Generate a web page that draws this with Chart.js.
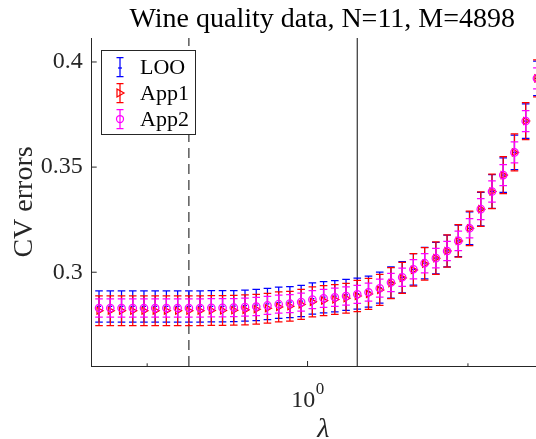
<!DOCTYPE html>
<html>
<head>
<meta charset="utf-8">
<script src="https://cdn.jsdelivr.net/npm/chart.js@4"></script>
<style>
  html, body { margin: 0; padding: 0; background: #fff; overflow: hidden; }
  #wrap { width: 580px; height: 439px; }
</style>
</head>
<body>
<div id="wrap"><canvas id="cv" width="580" height="439"></canvas></div>
<script>
// lambda grid (x), one entry per point
const lambdas = [
  0.0501, 0.0589, 0.0692, 0.0813, 0.0955, 0.1122, 0.1318, 0.1549, 0.1820, 0.2138,
  0.2512, 0.2951, 0.3467, 0.4074, 0.4786, 0.5623, 0.6607, 0.7762, 0.9120, 1.0715,
  1.2589, 1.4791, 1.7378, 2.0417, 2.3988, 2.8184, 3.3113, 3.8905, 4.5709, 5.3703,
  6.3096, 7.4131, 8.7096, 10.2329, 12.0226, 14.1254, 16.5959, 19.4984, 22.9087, 26.9153
]

const looMean = [
  0.2837, 0.2837, 0.2837, 0.2837, 0.2837, 0.2837, 0.2837, 0.2837, 0.2837, 0.2837,
  0.2838, 0.2838, 0.2839, 0.2841, 0.2844, 0.2849, 0.2855, 0.2858, 0.2863, 0.2875,
  0.2881, 0.2886, 0.2892, 0.2898, 0.2908, 0.2927, 0.2951, 0.2976, 0.3014, 0.3043,
  0.3067, 0.3101, 0.3149, 0.3209, 0.3300, 0.3384, 0.3462, 0.3570, 0.3719, 0.3922
]
const looErr = [
  0.0074, 0.0074, 0.0074, 0.0074, 0.0074, 0.0074, 0.0074, 0.0074, 0.0074, 0.0074,
  0.0074, 0.0074, 0.0074, 0.0074, 0.0074, 0.0074, 0.0074, 0.0074, 0.0074, 0.0074,
  0.0074, 0.0074, 0.0074, 0.0074, 0.0074, 0.0074, 0.0074, 0.0074, 0.0075, 0.0075,
  0.0075, 0.0075, 0.0075, 0.0078, 0.0080, 0.0080, 0.0082, 0.0082, 0.0082, 0.0082
]

const app1Mean = [
  0.2817, 0.2817, 0.2817, 0.2817, 0.2817, 0.2817, 0.2817, 0.2817, 0.2817, 0.2817,
  0.2818, 0.2818, 0.2819, 0.2821, 0.2824, 0.2829, 0.2835, 0.2838, 0.2847, 0.2859,
  0.2865, 0.2870, 0.2876, 0.2887, 0.2897, 0.2916, 0.2948, 0.2973, 0.3011, 0.3040,
  0.3067, 0.3101, 0.3149, 0.3209, 0.3300, 0.3384, 0.3462, 0.3570, 0.3719, 0.3922
]
const app1Err = [
  0.0071, 0.0071, 0.0071, 0.0071, 0.0071, 0.0071, 0.0071, 0.0071, 0.0071, 0.0071,
  0.0071, 0.0071, 0.0071, 0.0071, 0.0071, 0.0071, 0.0071, 0.0071, 0.0071, 0.0071,
  0.0071, 0.0071, 0.0071, 0.0074, 0.0074, 0.0074, 0.0074, 0.0074, 0.0077, 0.0077,
  0.0077, 0.0077, 0.0077, 0.0082, 0.0082, 0.0082, 0.0088, 0.0088, 0.0088, 0.0088
]

const app2Mean = [
  0.2830, 0.2830, 0.2830, 0.2830, 0.2830, 0.2830, 0.2830, 0.2830, 0.2830, 0.2830,
  0.2831, 0.2831, 0.2832, 0.2834, 0.2837, 0.2842, 0.2848, 0.2851, 0.2858, 0.2870,
  0.2876, 0.2881, 0.2887, 0.2895, 0.2905, 0.2924, 0.2951, 0.2976, 0.3014, 0.3043,
  0.3067, 0.3101, 0.3149, 0.3209, 0.3300, 0.3384, 0.3462, 0.3570, 0.3719, 0.3922
]
const app2Err = [
  0.0043, 0.0043, 0.0043, 0.0043, 0.0043, 0.0043, 0.0043, 0.0043, 0.0043, 0.0043,
  0.0043, 0.0043, 0.0043, 0.0043, 0.0043, 0.0043, 0.0043, 0.0043, 0.0043, 0.0043,
  0.0043, 0.0043, 0.0043, 0.0043, 0.0043, 0.0043, 0.0043, 0.0043, 0.0046, 0.0046,
  0.0046, 0.0046, 0.0046, 0.0046, 0.0050, 0.0050, 0.0050, 0.0050, 0.0050, 0.0050
]

const seriesNames = ['LOO', 'App1', 'App2']
const yTickValues = [0.3, 0.35, 0.4]
const xMajorTicks = [1]
const xMinorTicks = [0.1, 10]
const lambdaDashed = 0.1820
const lambdaSolid = 2.0417

const titleText = 'Wine quality data, N=11, M=4898'
const xLabel = 'λ'
const yLabel = 'CV errors'

const FONT = "'Liberation Serif', 'Times New Roman', serif"
const AXIS = '#262626'
Chart.defaults.font.family = FONT

const errs = [looErr, app1Err, app2Err]
const means = [looMean, app1Mean, app2Mean]
const colors = ['#0000ff', '#ff0000', '#ff00ff']

function pts(arr) {
  return lambdas.map((x, i) => ({ x, y: arr[i] }))
}

function drawBar(ctx, x, yTop, yBot, cap) {
  ctx.beginPath()
  ctx.moveTo(x, yTop); ctx.lineTo(x, yBot)
  ctx.moveTo(x - cap, yTop); ctx.lineTo(x + cap, yTop)
  ctx.moveTo(x - cap, yBot); ctx.lineTo(x + cap, yBot)
  ctx.stroke()
}

const errorBars = {
  id: 'errorBars',
  beforeDatasetDraw(chart, args) {
    const { ctx, chartArea: a, scales } = chart
    const i = args.index
    ctx.save()
    ctx.beginPath()
    ctx.rect(a.left, a.top, a.right - a.left, a.bottom - a.top)
    ctx.clip()
    ctx.strokeStyle = colors[i]
    ctx.lineWidth = 1.25
    lambdas.forEach((l, k) => {
      const x = scales.x.getPixelForValue(l)
      const yt = scales.y.getPixelForValue(means[i][k] + errs[i][k])
      const yb = scales.y.getPixelForValue(means[i][k] - errs[i][k])
      drawBar(ctx, x, yt, yb, 3.8)
    })
    ctx.restore()
  }
}

const decorations = {
  id: 'decorations',
  beforeDatasetsDraw(chart) {
    const { ctx, chartArea: a, scales } = chart
    ctx.save()
    ctx.strokeStyle = '#333'
    ctx.lineWidth = 1.2
    const xd = scales.x.getPixelForValue(lambdaDashed)
    ctx.setLineDash([10, 6])
    ctx.beginPath(); ctx.moveTo(xd, a.bottom); ctx.lineTo(xd, a.top); ctx.stroke()
    ctx.setLineDash([])
    const xs = scales.x.getPixelForValue(lambdaSolid)
    ctx.beginPath(); ctx.moveTo(xs, a.bottom); ctx.lineTo(xs, a.top); ctx.stroke()
    ctx.restore()
  },
  afterDraw(chart) {
    const { ctx, chartArea: a, scales } = chart
    ctx.save()
    // inward tick marks
    ctx.strokeStyle = AXIS
    ctx.lineWidth = 1
    yTickValues.forEach(v => {
      const y = scales.y.getPixelForValue(v)
      ctx.beginPath(); ctx.moveTo(a.left, y); ctx.lineTo(a.left + 5, y); ctx.stroke()
    })
    xMajorTicks.forEach(v => {
      const x = scales.x.getPixelForValue(v)
      ctx.beginPath(); ctx.moveTo(x, a.bottom); ctx.lineTo(x, a.bottom - 5); ctx.stroke()
    })
    xMinorTicks.forEach(v => {
      const x = scales.x.getPixelForValue(v)
      ctx.beginPath(); ctx.moveTo(x, a.bottom); ctx.lineTo(x, a.bottom - 2.7); ctx.stroke()
    })

    // x tick label 10^0
    ctx.fillStyle = AXIS
    ctx.textBaseline = 'alphabetic'
    xMajorTicks.forEach(v => {
      const x = scales.x.getPixelForValue(v)
      const exp = String(Math.round(Math.log10(v)))
      ctx.font = '24px ' + FONT
      const wb = ctx.measureText('10').width
      ctx.font = '17px ' + FONT
      const we = ctx.measureText(exp).width
      const x0 = x - (wb + we) / 2
      ctx.font = '24px ' + FONT
      ctx.textAlign = 'left'
      ctx.fillText('10', x0, 406.5)
      ctx.font = '17px ' + FONT
      ctx.fillText(exp, x0 + wb + 0.5, 394)
    })

    // axis labels and title
    const cx = (a.left + a.right) / 2
    ctx.textAlign = 'center'
    ctx.font = 'italic 28px ' + FONT
    ctx.fillText(xLabel, cx, 437)
    ctx.font = '28px ' + FONT
    ctx.fillStyle = '#000'
    ctx.fillText(titleText, cx - 1, 27)
    ctx.save()
    ctx.translate(31.5, (a.top + a.bottom) / 2)
    ctx.rotate(-Math.PI / 2)
    ctx.font = '28px ' + FONT
    ctx.fillStyle = AXIS
    ctx.fillText(yLabel, 0, 0)
    ctx.restore()

    // legend
    const bx = 101.5, by = 50.5, bw = 94, bh = 84
    ctx.fillStyle = '#fff'
    ctx.fillRect(bx, by, bw, bh)
    ctx.strokeStyle = AXIS
    ctx.lineWidth = 1
    ctx.strokeRect(bx, by, bw, bh)
    const rows = [67, 93, 119]
    seriesNames.forEach((name, i) => {
      const cy = rows[i], ix = 120
      ctx.strokeStyle = colors[i]
      ctx.lineWidth = 1.25
      drawBar(ctx, ix, cy - 9.5, cy + 9.5, 3.5)
      if (i === 0) {
        ctx.beginPath(); ctx.moveTo(ix - 2, cy + 1); ctx.lineTo(ix + 2, cy + 1); ctx.stroke()
      } else if (i === 1) {
        ctx.beginPath()
        ctx.moveTo(ix - 3, cy - 4); ctx.lineTo(ix + 4, cy); ctx.lineTo(ix - 3, cy + 4); ctx.closePath()
        ctx.stroke()
      } else {
        ctx.beginPath(); ctx.arc(ix, cy, 3.5, 0, Math.PI * 2); ctx.stroke()
      }
      ctx.fillStyle = '#000'
      ctx.font = '22px ' + FONT
      ctx.textAlign = 'left'
      ctx.textBaseline = 'middle'
      ctx.fillText(name, 140, cy + 1)
    })
    ctx.restore()
  }
}

new Chart(document.getElementById('cv'), {
  type: 'line',
  data: {
    datasets: [
      {
        label: seriesNames[0], data: pts(looMean), showLine: false, order: 2,
        pointStyle: 'line', pointRadius: 2, borderColor: colors[0], backgroundColor: colors[0],
        borderWidth: 1.25
      },
      {
        label: seriesNames[1], data: pts(app1Mean), showLine: false, order: 1,
        pointStyle: 'triangle', pointRotation: 90, pointRadius: 4,
        borderColor: colors[1], backgroundColor: 'rgba(0,0,0,0)', borderWidth: 1.25
      },
      {
        label: seriesNames[2], data: pts(app2Mean), showLine: false, order: 0,
        pointStyle: 'circle', pointRadius: 3.7,
        borderColor: colors[2], backgroundColor: 'rgba(0,0,0,0)', borderWidth: 1.25
      }
    ]
  },
  options: {
    responsive: false,
    animation: false,
    devicePixelRatio: 1,
    layout: { padding: { top: 38, right: 25.2, left: 0, bottom: 0 } },
    plugins: { legend: { display: false }, tooltip: { enabled: false }, title: { display: false } },
    scales: {
      x: {
        type: 'logarithmic', min: 0.0451, max: 34.8,
        grid: { display: false },
        border: { display: true, color: AXIS, width: 1 },
        ticks: { display: false },
        afterBuildTicks: s => { s.ticks = [] },
        afterFit: s => { s.height = 73 }
      },
      y: {
        type: 'linear', min: 0.2554, max: 0.4114,
        grid: { display: false, drawTicks: false },
        border: { display: true, color: AXIS, width: 1 },
        afterBuildTicks: s => { s.ticks = yTickValues.map(v => ({ value: v })) },
        ticks: {
          padding: 9, color: AXIS, font: { size: 24, family: FONT },
          callback: v => String(+v.toFixed(2))
        },
        afterFit: s => { s.width = 91.7 }
      }
    }
  },
  plugins: [errorBars, decorations]
})
</script>
</body>
</html>
